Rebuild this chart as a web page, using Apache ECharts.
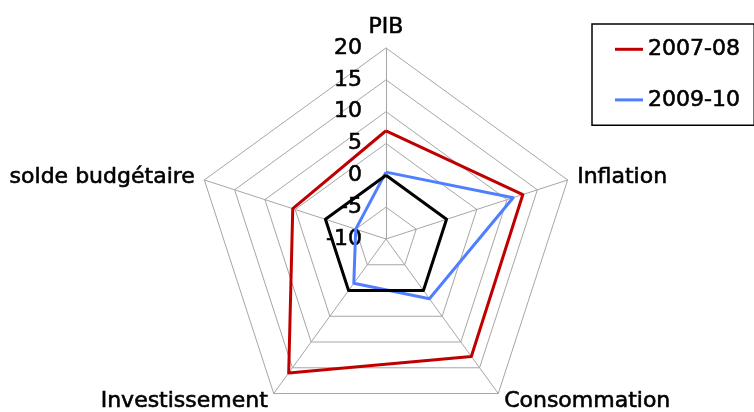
<!DOCTYPE html>
<html>
<head>
<meta charset="utf-8">
<script src="https://cdn.jsdelivr.net/npm/echarts@6/dist/echarts.min.js"></script>
<style>
  html, body { margin: 0; padding: 0; background: #fff; }
  #main { width: 754px; height: 412px; }
</style>
</head>
<body>
<div id="main"></div>
<script>
// indicators listed counter-clockwise from the top (ECharts radar order)
var indicators = ['PIB', 'solde budgétaire', 'Investissement', 'Consommation', 'Inflation'];
var seriesNames = ['2007-08', '2009-10'];
var values0708 = [7, 5.4, 16, 12.8, 12.6];
var values0910 = [0.5, -5, -1.4, 1.6, 11];
var zeroLine = [0, 0, 0, 0, 0];
var axisMin = -10, axisMax = 20;

var chart = echarts.init(document.getElementById('main'));
var font = 'DejaVu Sans';
// slightly heavier strokes, like the original's text
var heavy = { textBorderColor: '#000', textBorderWidth: 0.6 };

var indicatorList = indicators.map(function (name, i) {
    var ind = { name: name, min: axisMin, max: axisMax };
    if (i > 0) {
        ind.axisLabel = { show: false };
    }
    return ind;
});

chart.setOption({
    backgroundColor: '#fff',
    animation: false,
    legend: {
        data: seriesNames,
        orient: 'vertical',
        left: 592,
        top: 24,
        padding: [14, 14, 14, 23],
        itemGap: 28,
        itemWidth: 28,
        itemHeight: 3,
        icon: 'rect',
        borderColor: '#000',
        borderWidth: 1.5,
        borderRadius: 0,
        textStyle: Object.assign({ fontFamily: font, fontSize: 22, color: '#000' }, heavy)
    },
    radar: {
        center: [386, 239],
        radius: 191,
        startAngle: 90,
        shape: 'polygon',
        splitNumber: 6,
        indicator: indicatorList,
        axisName: Object.assign({ color: '#000', fontFamily: font, fontSize: 22 }, heavy),
        nameGap: 10,
        axisLine: { lineStyle: { color: '#a6a6a6', width: 1 } },
        splitLine: { lineStyle: { color: '#a6a6a6', width: 1 } },
        splitArea: { show: false },
        axisTick: { show: false },
        axisLabel: Object.assign({
            show: true,
            color: '#000',
            fontFamily: font,
            fontSize: 22,
            margin: 24
        }, heavy)
    },
    series: [{
        type: 'radar',
        symbol: 'none',
        silent: true,
        data: [
            { name: seriesNames[0], value: values0708, lineStyle: { color: '#c00000', width: 3 }, itemStyle: { color: '#c00000' } },
            { name: seriesNames[1], value: values0910, lineStyle: { color: '#4f7fff', width: 3 }, itemStyle: { color: '#4f7fff' } },
            { name: 'zero', value: zeroLine, lineStyle: { color: '#000', width: 3 }, itemStyle: { color: '#000' } }
        ]
    }]
});
</script>
</body>
</html>
